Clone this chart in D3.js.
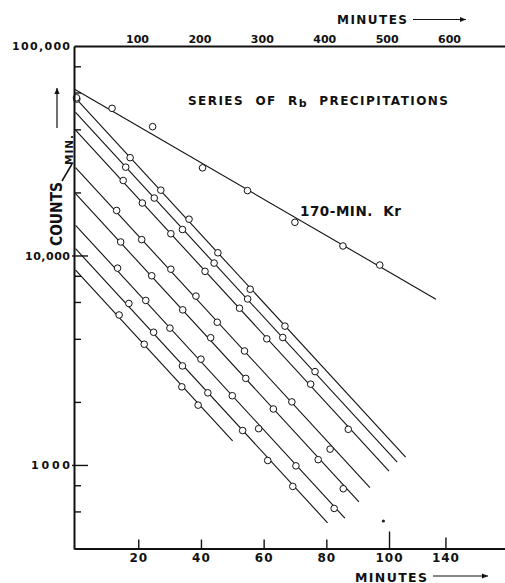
<!DOCTYPE html>
<html>
<head>
<meta charset="utf-8">
<script src="https://cdn.jsdelivr.net/npm/d3@7"></script>
<style>
  body { margin: 0; background: #fff; }
  svg text { font-family: "DejaVu Sans", sans-serif; font-weight: bold; fill: #111; }
</style>
</head>
<body>
<script>
// axis ticks
const yTicks = [80000, 60000, 40000, 20000, 10000, 8000, 6000, 4000, 2000, 1000, 800, 600];
const yLabelled = {100000: "100,000", 10000: "10,000", 1000: "1000"};
const bottomTicks = [20, 40, 60, 80, 100, 118];
const bottomLabels = ["20", "40", "60", "80", "100", "140"];
const topTicks = [100, 200, 300, 400, 500, 600];

// 170-min Kr (plotted against the top minutes scale)
const krTimes = [3, 60, 125, 205, 277, 353, 430, 489];
const krCounts = [56600, 50400, 41200, 26200, 20400, 14400, 11100, 9000];
const krStart = 62100;
const krHalfLife = 174;
const krEnd = 579;

// Rb precipitations (bottom minutes scale)
const rbTimes = [
  [0.4, 17.4, 27.2, 36.2, 45.4, 55.7, 66.8],
  [16.0, 25.1, 34.1, 44.2, 54.9, 66.1, 76.4],
  [15.2, 21.3, 30.4, 41.3, 52.3, 61.0, 75.0, 87.0],
  [13.1, 21.1, 30.4, 38.4, 45.2, 53.9, 69.0, 81.2],
  [14.4, 24.3, 34.2, 43.1, 54.3, 63.1, 77.4, 85.4],
  [13.4, 22.4, 30.1, 40.0, 50.0, 58.4, 70.3, 82.5],
  [17.0, 24.9, 34.1, 42.2, 53.3, 61.3, 69.3],
  [13.9, 21.9, 33.9, 39.1]
];
const rbCounts = [
  [55800, 29300, 20500, 14900, 10300, 6900, 4600],
  [26400, 18800, 13300, 9200, 6200, 4060, 2790],
  [22800, 17800, 12700, 8400, 5600, 4000, 2430, 1480],
  [16400, 11900, 8600, 6400, 4800, 3500, 2000, 1190],
  [11600, 8000, 5500, 4050, 2590, 1850, 1060, 770],
  [8700, 6100, 4500, 3200, 2140, 1490, 990, 620],
  [5900, 4300, 2970, 2210, 1460, 1050, 790],
  [5200, 3770, 2360, 1930]
];
const rbStarts = [56400, 48150, 39640, 26300, 19720, 13940, 10770, 8510];
const rbEnds = [105.3, 102.6, 100.0, 93.9, 90.4, 85.9, 80.4, 50.1];
const rbHalfLife = 18.5;

// stray dot near the bottom
const strayTimes = [98.2];
const strayCounts = [540];

const width = 505, height = 583;
const svg = d3.select("body").append("svg")
    .attr("width", width)
    .attr("height", height);

const x = d3.scaleLinear().domain([-0.5, 137]).range([74, 505]);
const xTop = d3.scaleLinear().domain([-1, 689.7]).range([74, 505]);
const y = d3.scaleLog().domain([397, 100000]).range([549, 46]);

function decay(a0, hl, t) { return a0 * Math.pow(2, -t / hl); }

// fitted lines
const line = d3.line().x(d => d[0]).y(d => d[1]);
rbStarts.forEach(function(a0, i) {
  let pts = [[x(0), y(a0)], [x(rbEnds[i]), y(decay(a0, rbHalfLife, rbEnds[i]))]];
  svg.append("path")
    .attr("fill", "none")
    .attr("stroke", "#111")
    .attr("stroke-width", 1.1)
    .attr("d", line(pts));
});
svg.append("path")
  .attr("fill", "none")
  .attr("stroke", "#111")
  .attr("stroke-width", 1.1)
  .attr("d", line([[xTop(0), y(krStart)], [xTop(krEnd), y(decay(krStart, krHalfLife, krEnd))]]));

// points
function circles(ts, ns, sx) {
  svg.append("g").selectAll("circle")
    .data(ts.map((t, i) => [t, ns[i]]))
    .join("circle")
    .attr("cx", d => sx(d[0]))
    .attr("cy", d => y(d[1]))
    .attr("r", 3.3)
    .attr("fill", "#fff")
    .attr("stroke", "#111")
    .attr("stroke-width", 1);
}
rbTimes.forEach((ts, i) => circles(ts, rbCounts[i], x));
circles(krTimes, krCounts, xTop);

svg.append("g").selectAll("circle")
  .data(strayTimes.map((t, i) => [t, strayCounts[i]]))
  .join("circle")
  .attr("cx", d => x(d[0]))
  .attr("cy", d => y(d[1]))
  .attr("r", 1.6)
  .attr("fill", "#222");

// axes
const leftAxis = svg.append("g")
  .attr("transform", "translate(74,0)")
  .call(d3.axisLeft(y)
    .tickValues([100000].concat(yTicks))
    .tickFormat(d => yLabelled[d] || "")
    .tickSizeInner(-7)
    .tickSizeOuter(0)
    .tickPadding(4));
leftAxis.selectAll(".tick line")
  .attr("x1", d => (d == 10000 || d == 1000) ? -2 : 0)
  .attr("x2", d => (d == 10000 || d == 1000) ? 14 : (d == 100000 ? 0 : 7));
leftAxis.selectAll(".tick text")
  .style("font-size", "11px")
  .attr("textLength", d => ({100000: 58, 10000: 45, 1000: 39})[d] || null)
  .attr("lengthAdjust", "spacing");

const bottomAxis = svg.append("g")
  .attr("transform", "translate(0,548.5)")
  .call(d3.axisBottom(x)
    .tickValues(bottomTicks)
    .tickFormat((d, i) => bottomLabels[i])
    .tickSizeInner(-9)
    .tickSizeOuter(0)
    .tickPadding(5));
bottomAxis.selectAll(".tick line")
  .attr("y2", d => d == 100 ? -17 : (d == 118 ? -11 : -9));
bottomAxis.selectAll(".tick text")
  .style("font-size", "12px")
  .attr("letter-spacing", 1);

const topAxis = svg.append("g")
  .attr("transform", "translate(0,46)")
  .call(d3.axisTop(xTop)
    .tickValues(topTicks)
    .tickSize(0)
    .tickPadding(3));
topAxis.selectAll(".tick text")
  .style("font-size", "11px");

svg.selectAll(".domain").attr("stroke", "#111").attr("stroke-width", 2);
svg.selectAll(".tick line").attr("stroke", "#111").attr("stroke-width", 1.4);
svg.selectAll(".tick text").attr("fill", "#111").attr("font-family", null);

// labels
function label(txt, px, py, size, len) {
  return svg.append("text")
    .attr("x", px).attr("y", py)
    .style("font-size", size + "px")
    .attr("textLength", len)
    .attr("lengthAdjust", "spacing")
    .text(txt);
}

const title = svg.append("text")
  .attr("x", 188).attr("y", 105)
  .style("font-size", "12px")
  .attr("textLength", 260)
  .attr("lengthAdjust", "spacing");
title.append("tspan").text("SERIES  OF  R");
title.append("tspan").attr("dy", 2).style("font-size", "11px").text("b");
title.append("tspan").attr("dy", -2).text("  PRECIPITATIONS");
title.style("white-space", "pre");

label("170-MIN.  Kr", 300, 215.5, 13.5, 101).style("white-space", "pre");
label("MINUTES", 337, 24, 12, 70);
label("MINUTES", 355, 581.5, 12.5, 72);

svg.append("text")
  .attr("transform", "translate(61.5,246) rotate(-90)")
  .style("font-size", "15px")
  .attr("textLength", 64)
  .attr("lengthAdjust", "spacingAndGlyphs")
  .text("COUNTS");
svg.append("text")
  .attr("transform", "translate(72.5,165) rotate(-90)")
  .style("font-size", "10.5px")
  .attr("textLength", 30)
  .attr("lengthAdjust", "spacing")
  .text("MIN.");
svg.append("line")
  .attr("x1", 62).attr("y1", 181)
  .attr("x2", 72).attr("y2", 164)
  .attr("stroke", "#111").attr("stroke-width", 1.5);

// arrows
function arrow(x1, y1, x2, y2) {
  svg.append("line")
    .attr("x1", x1).attr("y1", y1).attr("x2", x2).attr("y2", y2)
    .attr("stroke", "#111").attr("stroke-width", 1.2);
  let a = Math.atan2(y2 - y1, x2 - x1), L = 6, W = 2.6;
  let bx = x2 - L * Math.cos(a), by = y2 - L * Math.sin(a);
  svg.append("path")
    .attr("d", `M${x2},${y2}L${bx - W * Math.sin(a)},${by + W * Math.cos(a)}L${bx + W * Math.sin(a)},${by - W * Math.cos(a)}Z`)
    .attr("fill", "#111");
}
arrow(413, 19.5, 466, 19.5);
arrow(433, 576, 488, 576);
arrow(57, 128, 57, 88);
</script>
</body>
</html>
